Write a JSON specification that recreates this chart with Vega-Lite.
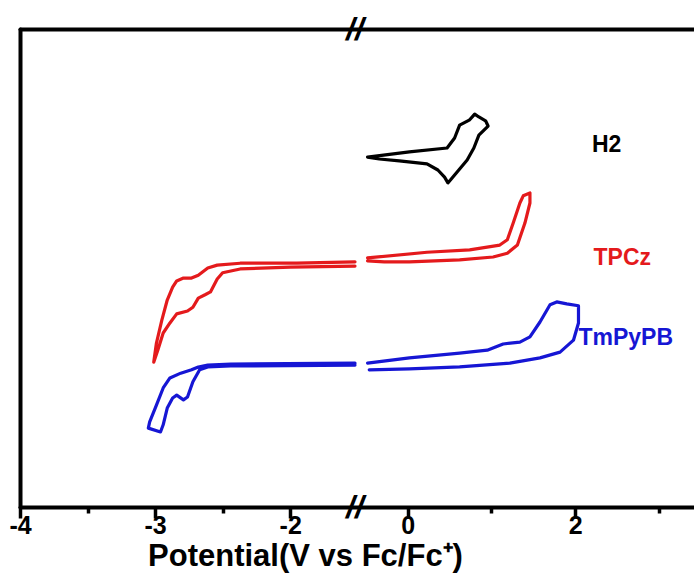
{
  "$schema": "https://vega.github.io/schema/vega-lite/v6.json",
  "width": 674,
  "height": 478,
  "autosize": "none",
  "padding": {"left": 20, "top": 29, "right": 0, "bottom": 74},
  "background": "white",
  "config": {"view": {"stroke": null}, "font": "Liberation Sans"},
  "datasets": {
    "cv": [
      {"s": "H2", "g": "H2", "k": 1, "x": -0.48, "y": 73.2},
      {"s": "H2", "g": "H2", "k": 2, "x": 0.02, "y": 74.3},
      {"s": "H2", "g": "H2", "k": 3, "x": 0.47, "y": 75.1},
      {"s": "H2", "g": "H2", "k": 4, "x": 0.56, "y": 77.2},
      {"s": "H2", "g": "H2", "k": 5, "x": 0.62, "y": 79.9},
      {"s": "H2", "g": "H2", "k": 6, "x": 0.74, "y": 81.0},
      {"s": "H2", "g": "H2", "k": 7, "x": 0.80, "y": 82.2},
      {"s": "H2", "g": "H2", "k": 8, "x": 0.85, "y": 81.6},
      {"s": "H2", "g": "H2", "k": 9, "x": 0.93, "y": 80.8},
      {"s": "H2", "g": "H2", "k": 10, "x": 0.96, "y": 79.7},
      {"s": "H2", "g": "H2", "k": 11, "x": 0.85, "y": 77.8},
      {"s": "H2", "g": "H2", "k": 12, "x": 0.79, "y": 75.1},
      {"s": "H2", "g": "H2", "k": 13, "x": 0.71, "y": 72.6},
      {"s": "H2", "g": "H2", "k": 14, "x": 0.59, "y": 70.1},
      {"s": "H2", "g": "H2", "k": 15, "x": 0.51, "y": 68.4},
      {"s": "H2", "g": "H2", "k": 16, "x": 0.48, "y": 67.8},
      {"s": "H2", "g": "H2", "k": 17, "x": 0.44, "y": 69.0},
      {"s": "H2", "g": "H2", "k": 18, "x": 0.36, "y": 70.5},
      {"s": "H2", "g": "H2", "k": 19, "x": 0.23, "y": 71.8},
      {"s": "H2", "g": "H2", "k": 20, "x": -0.10, "y": 72.4},
      {"s": "H2", "g": "H2", "k": 21, "x": -0.34, "y": 72.8},
      {"s": "H2", "g": "H2", "k": 22, "x": -0.48, "y": 73.2},

      {"s": "TPCz", "g": "TPCzL", "k": 1, "x": -1.52, "y": 51.3},
      {"s": "TPCz", "g": "TPCzL", "k": 2, "x": -1.95, "y": 51.0},
      {"s": "TPCz", "g": "TPCzL", "k": 3, "x": -2.37, "y": 51.0},
      {"s": "TPCz", "g": "TPCzL", "k": 4, "x": -2.54, "y": 50.6},
      {"s": "TPCz", "g": "TPCzL", "k": 5, "x": -2.61, "y": 50.0},
      {"s": "TPCz", "g": "TPCzL", "k": 6, "x": -2.68, "y": 48.5},
      {"s": "TPCz", "g": "TPCzL", "k": 7, "x": -2.73, "y": 47.9},
      {"s": "TPCz", "g": "TPCzL", "k": 8, "x": -2.79, "y": 47.9},
      {"s": "TPCz", "g": "TPCzL", "k": 9, "x": -2.84, "y": 47.3},
      {"s": "TPCz", "g": "TPCzL", "k": 10, "x": -2.87, "y": 46.0},
      {"s": "TPCz", "g": "TPCzL", "k": 11, "x": -2.91, "y": 43.3},
      {"s": "TPCz", "g": "TPCzL", "k": 12, "x": -2.95, "y": 39.1},
      {"s": "TPCz", "g": "TPCzL", "k": 13, "x": -2.99, "y": 34.3},
      {"s": "TPCz", "g": "TPCzL", "k": 14, "x": -3.01, "y": 30.3},
      {"s": "TPCz", "g": "TPCzL", "k": 15, "x": -2.98, "y": 32.8},
      {"s": "TPCz", "g": "TPCzL", "k": 16, "x": -2.94, "y": 36.4},
      {"s": "TPCz", "g": "TPCzL", "k": 17, "x": -2.89, "y": 38.5},
      {"s": "TPCz", "g": "TPCzL", "k": 18, "x": -2.84, "y": 40.4},
      {"s": "TPCz", "g": "TPCzL", "k": 19, "x": -2.76, "y": 41.0},
      {"s": "TPCz", "g": "TPCzL", "k": 20, "x": -2.72, "y": 41.8},
      {"s": "TPCz", "g": "TPCzL", "k": 21, "x": -2.68, "y": 43.7},
      {"s": "TPCz", "g": "TPCzL", "k": 22, "x": -2.63, "y": 44.4},
      {"s": "TPCz", "g": "TPCzL", "k": 23, "x": -2.59, "y": 45.0},
      {"s": "TPCz", "g": "TPCzL", "k": 24, "x": -2.54, "y": 47.7},
      {"s": "TPCz", "g": "TPCzL", "k": 25, "x": -2.50, "y": 49.0},
      {"s": "TPCz", "g": "TPCzL", "k": 26, "x": -2.37, "y": 49.8},
      {"s": "TPCz", "g": "TPCzL", "k": 27, "x": -2.00, "y": 50.2},
      {"s": "TPCz", "g": "TPCzL", "k": 28, "x": -1.52, "y": 50.4},

      {"s": "TPCz", "g": "TPCzR", "k": 1, "x": -0.48, "y": 52.1},
      {"s": "TPCz", "g": "TPCzR", "k": 2, "x": 0.23, "y": 53.3},
      {"s": "TPCz", "g": "TPCzR", "k": 3, "x": 0.74, "y": 53.8},
      {"s": "TPCz", "g": "TPCzR", "k": 4, "x": 1.10, "y": 54.8},
      {"s": "TPCz", "g": "TPCzR", "k": 5, "x": 1.19, "y": 55.9},
      {"s": "TPCz", "g": "TPCzR", "k": 6, "x": 1.26, "y": 59.4},
      {"s": "TPCz", "g": "TPCzR", "k": 7, "x": 1.34, "y": 63.6},
      {"s": "TPCz", "g": "TPCzR", "k": 8, "x": 1.38, "y": 65.1},
      {"s": "TPCz", "g": "TPCzR", "k": 9, "x": 1.46, "y": 65.7},
      {"s": "TPCz", "g": "TPCzR", "k": 10, "x": 1.46, "y": 63.6},
      {"s": "TPCz", "g": "TPCzR", "k": 11, "x": 1.40, "y": 59.4},
      {"s": "TPCz", "g": "TPCzR", "k": 12, "x": 1.31, "y": 54.8},
      {"s": "TPCz", "g": "TPCzR", "k": 13, "x": 1.19, "y": 53.1},
      {"s": "TPCz", "g": "TPCzR", "k": 14, "x": 1.02, "y": 52.3},
      {"s": "TPCz", "g": "TPCzR", "k": 15, "x": 0.62, "y": 51.7},
      {"s": "TPCz", "g": "TPCzR", "k": 16, "x": 0.02, "y": 51.3},
      {"s": "TPCz", "g": "TPCzR", "k": 17, "x": -0.28, "y": 51.3},
      {"s": "TPCz", "g": "TPCzR", "k": 18, "x": -0.48, "y": 51.5},

      {"s": "TmPyPB", "g": "TmL", "k": 1, "x": -1.50, "y": 30.1},
      {"s": "TmPyPB", "g": "TmL", "k": 2, "x": -2.44, "y": 29.9},
      {"s": "TmPyPB", "g": "TmL", "k": 3, "x": -2.61, "y": 29.7},
      {"s": "TmPyPB", "g": "TmL", "k": 4, "x": -2.68, "y": 29.3},
      {"s": "TmPyPB", "g": "TmL", "k": 5, "x": -2.73, "y": 28.7},
      {"s": "TmPyPB", "g": "TmL", "k": 6, "x": -2.81, "y": 28.0},
      {"s": "TmPyPB", "g": "TmL", "k": 7, "x": -2.89, "y": 27.0},
      {"s": "TmPyPB", "g": "TmL", "k": 8, "x": -2.94, "y": 24.9},
      {"s": "TmPyPB", "g": "TmL", "k": 9, "x": -2.99, "y": 21.3},
      {"s": "TmPyPB", "g": "TmL", "k": 10, "x": -3.04, "y": 17.8},
      {"s": "TmPyPB", "g": "TmL", "k": 11, "x": -3.05, "y": 16.5},
      {"s": "TmPyPB", "g": "TmL", "k": 12, "x": -2.96, "y": 15.7},
      {"s": "TmPyPB", "g": "TmL", "k": 13, "x": -2.94, "y": 17.2},
      {"s": "TmPyPB", "g": "TmL", "k": 14, "x": -2.91, "y": 20.7},
      {"s": "TmPyPB", "g": "TmL", "k": 15, "x": -2.87, "y": 22.8},
      {"s": "TmPyPB", "g": "TmL", "k": 16, "x": -2.84, "y": 23.4},
      {"s": "TmPyPB", "g": "TmL", "k": 17, "x": -2.79, "y": 22.4},
      {"s": "TmPyPB", "g": "TmL", "k": 18, "x": -2.76, "y": 23.0},
      {"s": "TmPyPB", "g": "TmL", "k": 19, "x": -2.72, "y": 26.2},
      {"s": "TmPyPB", "g": "TmL", "k": 20, "x": -2.67, "y": 28.7},
      {"s": "TmPyPB", "g": "TmL", "k": 21, "x": -2.61, "y": 29.3},
      {"s": "TmPyPB", "g": "TmL", "k": 22, "x": -2.44, "y": 29.5},
      {"s": "TmPyPB", "g": "TmL", "k": 23, "x": -1.50, "y": 29.7},

      {"s": "TmPyPB", "g": "TmR", "k": 1, "x": -0.48, "y": 30.1},
      {"s": "TmPyPB", "g": "TmR", "k": 2, "x": 0.02, "y": 31.2},
      {"s": "TmPyPB", "g": "TmR", "k": 3, "x": 0.62, "y": 32.2},
      {"s": "TmPyPB", "g": "TmR", "k": 4, "x": 0.95, "y": 32.8},
      {"s": "TmPyPB", "g": "TmR", "k": 5, "x": 1.14, "y": 34.1},
      {"s": "TmPyPB", "g": "TmR", "k": 6, "x": 1.34, "y": 34.5},
      {"s": "TmPyPB", "g": "TmR", "k": 7, "x": 1.46, "y": 35.6},
      {"s": "TmPyPB", "g": "TmR", "k": 8, "x": 1.58, "y": 38.7},
      {"s": "TmPyPB", "g": "TmR", "k": 9, "x": 1.70, "y": 42.3},
      {"s": "TmPyPB", "g": "TmR", "k": 10, "x": 1.78, "y": 42.9},
      {"s": "TmPyPB", "g": "TmR", "k": 11, "x": 1.90, "y": 42.5},
      {"s": "TmPyPB", "g": "TmR", "k": 12, "x": 2.04, "y": 42.1},
      {"s": "TmPyPB", "g": "TmR", "k": 13, "x": 2.04, "y": 38.5},
      {"s": "TmPyPB", "g": "TmR", "k": 14, "x": 1.98, "y": 34.9},
      {"s": "TmPyPB", "g": "TmR", "k": 15, "x": 1.82, "y": 32.4},
      {"s": "TmPyPB", "g": "TmR", "k": 16, "x": 1.58, "y": 31.2},
      {"s": "TmPyPB", "g": "TmR", "k": 17, "x": 1.22, "y": 30.1},
      {"s": "TmPyPB", "g": "TmR", "k": 18, "x": 0.62, "y": 29.3},
      {"s": "TmPyPB", "g": "TmR", "k": 19, "x": 0.02, "y": 28.9},
      {"s": "TmPyPB", "g": "TmR", "k": 20, "x": -0.46, "y": 28.7}
    ],
    "labels": [
      {"s": "H2", "x": 2.20, "y": 75.7},
      {"s": "TPCz", "x": 2.22, "y": 52.1},
      {"s": "TmPyPB", "x": 2.04, "y": 35.4}
    ],
    "breaks": [
      {"x": -1.0, "y": 0},
      {"x": -1.0, "y": 100}
    ]
  },
  "layer": [
    {
      "data": {"name": "cv"},
      "mark": {"type": "line", "strokeWidth": 3.2, "strokeJoin": "round", "strokeCap": "round"},
      "encoding": {
        "x": {
          "field": "x", "type": "quantitative",
          "scale": {"domain": [-4, -1.52, -0.63, 3.42], "range": [0, 335, 335, 674], "nice": false, "zero": false},
          "axis": {
            "orient": "bottom",
            "values": [-4, -3.5, -3, -2.5, -2, 0, 1, 2, 3],
            "labelExpr": "(datum.value == 1 || datum.value == 3 || datum.value == -3.5 || datum.value == -2.5) ? '' : '' + datum.value",
            "grid": false,
            "domainColor": "black", "domainWidth": 4, "domainCap": "round",
            "tickColor": "black", "tickWidth": 3.5,
            "tickSize": {"condition": {"test": "datum.value == 1 || datum.value == 3 || datum.value == -3.5 || datum.value == -2.5", "value": 6}, "value": 11},
            "labelFont": "Liberation Sans", "labelFontSize": 25, "labelFontWeight": "bold", "labelColor": "black",
            "labelPadding": -5, "labelFlush": false, "labelOverlap": false,
            "title": "Potential(V vs Fc/Fc⁺)",
            "titleFont": "Liberation Sans", "titleFontSize": 31, "titleFontWeight": "bold", "titleColor": "black",
            "titlePadding": 3, "titleX": 285, "titleAlign": "center"
          }
        },
        "y": {
          "field": "y", "type": "quantitative",
          "scale": {"domain": [0, 100], "nice": false, "zero": false},
          "axis": {"ticks": false, "labels": false, "grid": false, "title": null, "domainColor": "black", "domainWidth": 4, "domainCap": "round"}
        },
        "color": {
          "field": "s", "type": "nominal",
          "scale": {"domain": ["H2", "TPCz", "TmPyPB"], "range": ["#000000", "#e41a1c", "#1616d4"]},
          "legend": null
        },
        "detail": {"field": "g"},
        "order": {"field": "k", "type": "quantitative"}
      }
    },
    {
      "data": {"name": "labels"},
      "mark": {"type": "text", "align": "left", "baseline": "middle", "font": "Liberation Sans", "fontSize": 23, "fontWeight": "bold"},
      "encoding": {
        "x": {"field": "x", "type": "quantitative", "axis": null},
        "y": {"field": "y", "type": "quantitative", "axis": null},
        "text": {"field": "s"},
        "color": {"field": "s", "type": "nominal", "legend": null}
      }
    },
    {
      "data": {"name": "breaks"},
      "mark": {"type": "text", "text": "//", "align": "center", "baseline": "middle", "font": "Liberation Sans", "fontSize": 32, "fontWeight": "bold", "fontStyle": "italic", "color": "black", "dy": 1},
      "encoding": {
        "x": {"field": "x", "type": "quantitative",
          "axis": {"orient": "top", "labels": false, "ticks": false, "grid": false, "title": null, "domainColor": "black", "domainWidth": 4, "domainCap": "round"}},
        "y": {"field": "y", "type": "quantitative", "axis": null}
      }
    }
  ],
  "resolve": {"axis": {"x": "independent", "y": "independent"}}
}
